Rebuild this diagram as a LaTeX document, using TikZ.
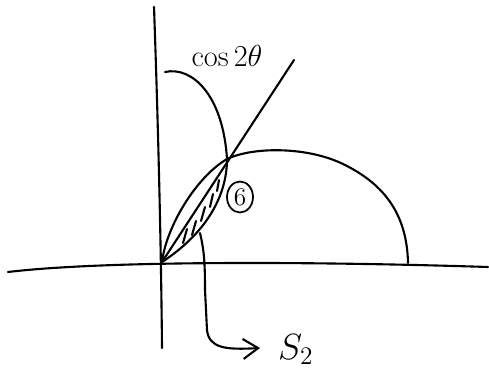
\documentclass[tikz,border=0pt]{standalone}
\usetikzlibrary{arrows.meta,shapes.geometric}

\begin{document}
\begin{tikzpicture}[x=0.2mm, y=-0.2mm, line width=1.2pt, line join=round, line cap=round,
        hatch/.style={line width=1.2pt},
        ring/.style={ellipse, draw, line width=1pt, inner sep=0pt}]
        \useasboundingbox (0,0) rectangle (489,369);

        % axes
        \draw (8,272) .. controls (100,261) and (300,261) .. (488,267);
        \draw (154,7) .. controls (158,120) and (161,240) .. (162,348);

        % origin, meeting point, end of the ray
        \coordinate (O) at (162,262);
        \coordinate (I) at (227,159);
        \coordinate (T) at (294,60);

        % ray through the meeting point
        \draw (O) -- (T);

        % cos 2theta lobe
        \draw (165,72) .. controls (192,66) and (223,95) .. (I)
              .. controls (227,197) and (205,234) .. (O);

        % circle
        \draw (O) .. controls (166,228) and (195,178) .. (I)
              .. controls (255,146) and (310,147) .. (345,165)
              .. controls (385,185) and (407,215) .. (408,263);

        % hatching of S2
        \foreach \xa/\ya/\xb/\yb in {183/243/187/229, 192/235/196/221, 201/221/205/207,
                                     210/207/213/194, 217/191/219/180}
            \draw[hatch] (\xa,\ya) -- (\xb,\yb);

        % labels
        \node (cosLbl) at (227,56) {\LARGE $\cos 2\theta$};
        \node[ring, minimum width=5.2mm, minimum height=6.2mm] (six) at (240,197) {\Large 6};
        \node[anchor=base west, inner sep=0pt] (sTwo) at (277,359) {\huge $S_2$};

        % pointer to S2
        \coordinate (hs) at (200,233);
        \coordinate (tip) at (260,348);
        \draw[-{Straight Barb[length=3mm,width=4mm]}] (hs) .. controls (204,250) and (205,262) .. (205,290)
              -- (207,330) .. controls (209,348) and (225,350) .. (tip);
\end{tikzpicture}
\end{document}
